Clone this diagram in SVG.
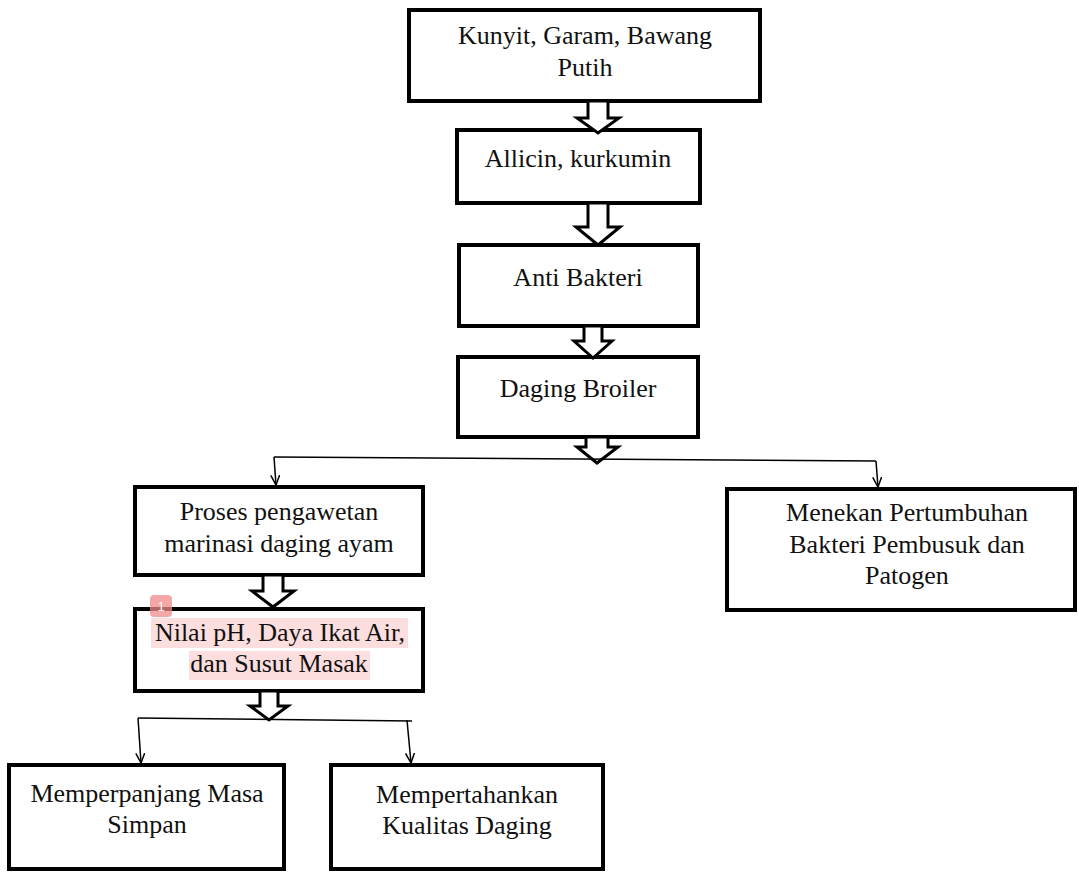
<svg xmlns="http://www.w3.org/2000/svg" width="1079" height="874" viewBox="0 0 1079 874">
<defs>
<style>
.box{fill:#fff;stroke:#000;stroke-width:4}
.t{font-family:"Liberation Serif","Times New Roman",serif;font-size:26px;fill:#111;text-anchor:middle}
.blk{fill:#fff;stroke:#000;stroke-width:3;stroke-linejoin:miter}
.ln{fill:none;stroke:#000;stroke-width:1.5}
.hl{fill:#fcdede}
</style>
<marker id="ah" viewBox="0 0 10 10" refX="10" refY="5" markerWidth="10" markerHeight="10" markerUnits="userSpaceOnUse" orient="auto">
<path d="M0,0.5 L10,5 L0,9.5" fill="none" stroke="#000" stroke-width="1.5"/>
</marker>
</defs>
<rect width="1079" height="874" fill="#fff"/>

<g id="n1"><rect class="box" x="409" y="10" width="351" height="91"/>
<text class="t" x="585" y="44">Kunyit, Garam, Bawang</text>
<text class="t" x="585" y="76">Putih</text></g>

<g id="n2"><rect class="box" x="457" y="130" width="243" height="73"/>
<text class="t" x="578" y="167">Allicin, kurkumin</text></g>

<g id="n3"><rect class="box" x="459" y="245" width="239" height="81"/>
<text class="t" x="578" y="286">Anti Bakteri</text></g>

<g id="n4"><rect class="box" x="458" y="357" width="240" height="80"/>
<text class="t" x="578" y="397">Daging Broiler</text></g>

<g id="n5"><rect class="box" x="135" y="487" width="288" height="88"/>
<text class="t" x="279" y="520">Proses pengawetan</text>
<text class="t" x="279" y="552">marinasi daging ayam</text></g>

<g id="n6"><rect class="box" x="135" y="609" width="288" height="82"/>
<rect class="hl" x="151" y="618" width="257" height="30"/>
<rect class="hl" x="189" y="651" width="181" height="29"/>
<text class="t" x="280" y="641">Nilai pH, Daya Ikat Air,</text>
<text class="t" x="279" y="672">dan Susut Masak</text>
<rect x="150" y="595" width="22" height="22" rx="4" fill="#f08a8a" fill-opacity="0.75"/>
<text x="161" y="611" font-family="Liberation Sans, Arial, sans-serif" font-size="12" fill="#fff" text-anchor="middle">1</text></g>

<g id="n7"><rect class="box" x="9" y="765" width="275" height="104"/>
<text class="t" x="147" y="802">Memperpanjang Masa</text>
<text class="t" x="147" y="833">Simpan</text></g>

<g id="n8"><rect class="box" x="331" y="765" width="272" height="104"/>
<text class="t" x="467" y="803">Mempertahankan</text>
<text class="t" x="467" y="834">Kualitas Daging</text></g>

<g id="n9"><rect class="box" x="727" y="489" width="348" height="121"/>
<text class="t" x="907" y="521">Menekan Pertumbuhan</text>
<text class="t" x="907" y="553">Bakteri Pembusuk dan</text>
<text class="t" x="907" y="584">Patogen</text></g>

<g id="connectors">
<polygon class="blk" points="588,101 608,101 608,118 619,118 598,133 577,118 588,118"/>
<polygon class="blk" points="588,203 608,203 608,227 620,227 598,245 576,227 588,227"/>
<polygon class="blk" points="584,326 602,326 602,341 612,341 593,358 574,341 584,341"/>
<polygon class="blk" points="586,437 608,437 608,447 618,447 597,463 577,447 586,447"/>
<polygon class="blk" points="263,575 283,575 283,591 294,591 273,607 252,591 263,591"/>
<polygon class="blk" points="260,691 278,691 278,706 288,706 269,720 250,706 260,706"/>
<path class="ln" d="M274,457 L876,461"/>
<path class="ln" d="M274,457 L276,485" marker-end="url(#ah)"/>
<path class="ln" d="M876,461 L878,487" marker-end="url(#ah)"/>
<path class="ln" d="M138,718 L412,721"/>
<path class="ln" d="M138,718 L141,763" marker-end="url(#ah)"/>
<path class="ln" d="M407,720 L411,763" marker-end="url(#ah)"/>
</g>
</svg>
